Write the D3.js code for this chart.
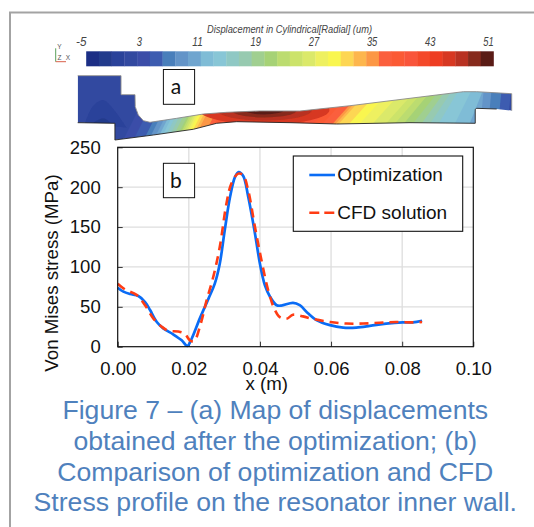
<!DOCTYPE html>
<html>
<head>
<meta charset="utf-8">
<script src="https://cdnjs.cloudflare.com/ajax/libs/d3/7.8.5/d3.min.js"></script>
<style>
    html, body { margin: 0; padding: 0; background: #fff; }
    svg { display: block; }
    text { font-family: "Liberation Sans", Arial, sans-serif; }
</style>
</head>
<body>
<div id="chart"></div>
<script>
// (b) stress profile
const optimizationX = [0, 0.0016, 0.0035, 0.0058, 0.0077, 0.0091, 0.011, 0.0128, 0.0156, 0.018, 0.0196, 0.0208, 0.0231, 0.0255, 0.0273, 0.0287, 0.0301, 0.0316, 0.033, 0.034, 0.0353, 0.0367, 0.0386, 0.04, 0.0414, 0.0428, 0.0447, 0.046, 0.0493, 0.0512, 0.0535, 0.0559, 0.0597, 0.0634, 0.0671, 0.0709, 0.0755, 0.0802, 0.083, 0.0856];
const optimizationY = [74, 69, 66, 63.5, 56, 46, 31, 23, 15.5, 8, 1, 10, 35.5, 60, 79, 104, 146, 188, 213, 219, 214, 188, 142, 104, 77, 63, 52, 51.5, 55, 52, 42, 33.4, 27, 24, 24, 26, 29, 30.5, 30.5, 32.6];
const cfdX = [0, 0.002, 0.0053, 0.0077, 0.01, 0.0124, 0.0142, 0.017, 0.0189, 0.0203, 0.0215, 0.0231, 0.025, 0.0269, 0.0287, 0.0306, 0.032, 0.0339, 0.0353, 0.0367, 0.0386, 0.0404, 0.0423, 0.0442, 0.0456, 0.0475, 0.0493, 0.0521, 0.055, 0.0597, 0.0643, 0.069, 0.0737, 0.0783, 0.083, 0.0856];
const cfdY = [79, 72, 65, 52, 35.5, 25, 20, 19, 16, 8, 7, 25, 58, 88, 125, 180, 205, 217, 215, 196, 150, 109, 71, 46, 37, 35, 40, 38, 34.7, 31, 29, 29, 30, 31, 30.5, 31];
const xTicks = [0, 0.02, 0.04, 0.06, 0.08, 0.10];
const yTicks = [0, 50, 100, 150, 200, 250];
const legendLabels = ["Optimization", "CFD solution"];

// (a) displacement map: colour bar and resonator section in map units
const barColors = ["#1b2f85", "#243a8c", "#2b429a", "#3248a0", "#3a4ea8", "#3c5cb0", "#4a7fbb", "#6494c8", "#6fa5cf", "#7fbcd6", "#88c6d6", "#8fc8c4", "#97cab0", "#a0cf90", "#a6d276", "#bcdc70", "#cce36a", "#dbe96a", "#eef060", "#f9f650", "#fdd652", "#fdb64e", "#fc9744", "#fb5f3c", "#fb5a36", "#f9553a", "#f44a2a", "#ee3d20", "#d73820", "#b83020", "#862a1e", "#5a1d18"];
const barTicks = [-5, 3, 11, 19, 27, 35, 43, 51];
const sectionU = [0, 9.98, 9.98, 13.2, 13.27, 13.96, 15.12, 16.66, 22.81, 28.94, 34.33, 42, 51.2, 62.74, 76.57, 88.85, 91.94, 100, 100, 96.54, 91.94, 91.6, 91.6, 76.57, 59.68, 48.92, 36.64, 32.03, 26.64, 17.42, 8.57, 8.57, 0];
const sectionV = [14.82, 14.82, 10.44, 10.44, 7.67, 5.76, 4.45, 4.08, 5, 5.99, 6.38, 6.7, 6.68, 7.9, 9.61, 11.13, 11.13, 10.67, 6.75, 7.14, 7.3, 7.07, 3.85, 3.99, 3.69, 3.99, 4.22, 3.85, 2.47, 1.15, 0, 3.85, 3.99];
const risingBand = [4, 6, 8, 11, 14, 19, 22, 23, 27];
const risingU = [12, 16.7, 19, 21.3, 24, 26.3, 28.2, 30.1, 34.3];
const fallingBand = [27, 23, 21, 19, 17, 14, 11, 10, 9, 8, 7, 6, 5];
const fallingU = [48.9, 58.1, 59.5, 64.3, 70.3, 76.6, 82.7, 86.5, 90, 92.7, 94.5, 96.8, 99];
const fallingSlant = [0.9, 0.9, 0.9, 0.9, 0.9, 0.8, 0.6, 0.5, 0.4, 0.1, 0.1, 0.1, 0.1];
const hotBand = [28, 29, 30, 31];
const hotRadiusU = [15, 11, 7.5, 4.5];
const hotRadiusV = [3.3, 2.4, 1.7, 1];
const bellOuterU = [1.7, 3.5, 5.9, 8.5, 11.3];
const bellOuterV = [4, 7.8, 9.2, 6.8, 2.8];
const bellInnerU = [3.6, 5.9, 8];
const bellInnerV = [4, 5, 3.6];

const width = 534, height = 527;
const svg = d3.select("#chart").append("svg").attr("width", width).attr("height", height);

// page frame
svg.append("path")
    .attr("d", `M10,${height}V12.5H${width}`)
    .attr("fill", "none")
    .attr("stroke", "#a3a3a3")
    .attr("stroke-width", 2);

const defs = svg.append("defs");
defs.append("filter").attr("id", "soft").append("feGaussianBlur").attr("stdDeviation", 0.45);

// ---- colour bar ----
const barX = d3.scaleLinear().domain([-5, 51]).range([86.2, 493.5]);
const bandWidth = 56 / barColors.length;
const bar = svg.append("g");

bar.append("g").attr("filter", "url(#soft)")
    .selectAll("rect")
    .data(barColors)
    .enter().append("rect")
    .attr("x", (d, i) => barX(-5 + i * bandWidth))
    .attr("y", 51.3)
    .attr("width", barX(bandWidth) - barX(0) + 0.3)
    .attr("height", 15)
    .attr("fill", d => d);

// the bar's labels are condensed in the original, so squeeze them with textLength
bar.selectAll("text.tick")
    .data(barTicks)
    .enter().append("text")
    .attr("class", "tick")
    .attr("x", d => barX(d) - 5)
    .attr("y", 46)
    .attr("text-anchor", "middle")
    .attr("font-size", 12.5)
    .attr("font-style", "italic")
    .attr("fill", "#444")
    .attr("textLength", d => String(d).length * 5.2)
    .attr("lengthAdjust", "spacingAndGlyphs")
    .text(d => d);

bar.append("text")
    .attr("x", 289.5)
    .attr("y", 32.5)
    .attr("text-anchor", "middle")
    .attr("font-size", 10.5)
    .attr("font-style", "italic")
    .attr("fill", "#444")
    .attr("textLength", 165)
    .attr("lengthAdjust", "spacingAndGlyphs")
    .text("Displacement in Cylindrical[Radial] (um)");

// little axis triad beside the bar
const triad = svg.append("g");
triad.append("line").attr("x1", 55.7).attr("x2", 55.7).attr("y1", 48.3).attr("y2", 61.7).attr("stroke", "#5aa05a").attr("stroke-width", 1);
triad.append("line").attr("x1", 55.7).attr("x2", 66).attr("y1", 61.7).attr("y2", 61.7).attr("stroke", "#d9604a").attr("stroke-width", 1);
triad.selectAll("text")
    .data([["Y", 59.5, 48.5], ["Z", 59.5, 59.5], ["X", 68, 59.5]])
    .enter().append("text")
    .attr("x", d => d[1])
    .attr("y", d => d[2])
    .attr("text-anchor", "middle")
    .attr("font-size", 6.5)
    .attr("fill", "#555")
    .text(d => d[0]);

// ---- displacement map ----
const mapU = d3.scaleLinear().domain([0, 100]).range([77.7, 511.7]);
const mapV = d3.scaleLinear().domain([0, 15]).range([140, 74.9]);
const sectionPoints = sectionU.map((u, i) => [u, sectionV[i]]);
const mapLine = d3.line().x(d => mapU(d[0])).y(d => mapV(d[1]));

defs.append("clipPath").attr("id", "section-clip")
    .append("path")
    .attr("d", mapLine(sectionPoints) + "Z");

const map = svg.append("g");
const fill = map.append("g").attr("clip-path", "url(#section-clip)").append("g").attr("filter", "url(#soft)");

// base colour, then nested bands, low to high
fill.append("path")
    .attr("d", mapLine(sectionPoints) + "Z")
    .attr("fill", barColors[3]);

const riseAt = d3.scaleLinear().domain(risingBand).range(risingU).clamp(true);
const fallAt = d3.scaleLinear().domain(fallingBand).range(fallingU).clamp(true);
const slantAt = d3.scaleLinear().domain(fallingBand).range(fallingSlant).clamp(true);
const riseSlant = 0.5, refV = 3;

d3.range(4, 28).forEach(function (b) {
    const r = riseAt(b), f = fallAt(b), s = slantAt(b);
    const band = [
        [r - refV * riseSlant, 0],
        [r + (16 - refV) * riseSlant, 16],
        [f + (16 - refV) * s, 16],
        [f - refV * s, 0]
    ];
    fill.append("path")
        .attr("d", mapLine(band) + "Z")
        .attr("fill", barColors[b]);
});

// hot spot under the upper wall
hotBand.forEach(function (b, i) {
    fill.append("ellipse")
        .attr("cx", mapU(43))
        .attr("cy", mapV(6.9))
        .attr("rx", mapU(hotRadiusU[i]) - mapU(0))
        .attr("ry", mapV(0) - mapV(hotRadiusV[i]))
        .attr("fill", barColors[b]);
});

// darker bell in the flange
const bellLine = d3.line().x(d => mapU(d[0])).y(d => mapV(d[1])).curve(d3.curveCatmullRom);
fill.append("path")
    .attr("d", bellLine(bellOuterU.map((u, i) => [u, bellOuterV[i]])))
    .attr("fill", barColors[2]);
fill.append("path")
    .attr("d", bellLine(bellInnerU.map((u, i) => [u, bellInnerV[i]])))
    .attr("fill", barColors[1]);

map.append("path")
    .attr("d", mapLine(sectionPoints.slice(0, 19)))
    .attr("fill", "none")
    .attr("stroke", "#8a8a8a")
    .attr("stroke-width", 0.9);
map.append("path")
    .attr("d", mapLine(sectionPoints.slice(19)))
    .attr("fill", "none")
    .attr("stroke", "#222")
    .attr("stroke-width", 0.9);

// ---- stress plot ----
const x = d3.scaleLinear().domain([0, 0.10]).range([117.7, 473.3]);
const y = d3.scaleLinear().domain([0, 250]).range([346.7, 147.3]);

const plot = svg.append("g");

plot.append("g")
    .selectAll("line")
    .data(xTicks.slice(1, -1))
    .enter().append("line")
    .attr("x1", d => x(d)).attr("x2", d => x(d))
    .attr("y1", y(0)).attr("y2", y(250))
    .attr("stroke", "#dedede")
    .attr("stroke-width", 1.3);

plot.append("g")
    .selectAll("line")
    .data(yTicks.slice(1, -1))
    .enter().append("line")
    .attr("x1", x(0)).attr("x2", x(0.10))
    .attr("y1", d => y(d)).attr("y2", d => y(d))
    .attr("stroke", "#dedede")
    .attr("stroke-width", 1.3);

const xAxis = d3.axisBottom(x).tickValues(xTicks).tickFormat(d3.format(".2f")).tickSizeInner(-5).tickSizeOuter(0).tickPadding(15);
const yAxis = d3.axisLeft(y).tickValues(yTicks).tickSizeInner(-5).tickSizeOuter(0).tickPadding(17);

const gx = plot.append("g").attr("transform", `translate(0, ${y(0)})`).call(xAxis);
const gy = plot.append("g").attr("transform", `translate(${x(0)}, 0)`).call(yAxis);
[gx, gy].forEach(function (g) {
    g.select(".domain").remove();
    g.selectAll("text").attr("font-size", 18.5).attr("fill", "#111").style("font-family", "'Liberation Sans', sans-serif");
    g.selectAll("line").attr("stroke", "#333");
});

const curve = d3.line().x(d => x(d[0])).y(d => y(d[1])).curve(d3.curveCatmullRom.alpha(0.5));

plot.append("path")
    .datum(optimizationX.map((v, i) => [v, optimizationY[i]]))
    .attr("fill", "none")
    .attr("stroke", "#0a6cf5")
    .attr("stroke-width", 2.7)
    .attr("d", curve);

plot.append("path")
    .datum(cfdX.map((v, i) => [v, cfdY[i]]))
    .attr("fill", "none")
    .attr("stroke", "#ff3c14")
    .attr("stroke-width", 2.6)
    .attr("stroke-dasharray", "9,6")
    .attr("d", curve);

plot.append("rect")
    .attr("x", x(0)).attr("y", y(250))
    .attr("width", x(0.10) - x(0)).attr("height", y(0) - y(250))
    .attr("fill", "none")
    .attr("stroke", "#111")
    .attr("stroke-width", 1.2);

plot.append("text")
    .attr("transform", "rotate(-90)")
    .attr("x", -273)
    .attr("y", 58)
    .attr("text-anchor", "middle")
    .attr("font-size", 18.7)
    .attr("fill", "#111")
    .text("Von Mises stress (MPa)");

plot.append("text")
    .attr("x", 266.7)
    .attr("y", 390)
    .attr("text-anchor", "middle")
    .attr("font-size", 18.7)
    .attr("fill", "#111")
    .text("x (m)");

// legend
const legend = svg.append("g");
legend.append("rect")
    .attr("x", 293.3).attr("y", 156)
    .attr("width", 169.4).attr("height", 75.3)
    .attr("fill", "#fff")
    .attr("stroke", "#111")
    .attr("stroke-width", 1.1);

legend.selectAll("line")
    .data(legendLabels)
    .enter().append("line")
    .attr("x1", 309.3).attr("x2", 335)
    .attr("y1", (d, i) => 175 + i * 37.7)
    .attr("y2", (d, i) => 175 + i * 37.7)
    .attr("stroke", (d, i) => i === 0 ? "#0a6cf5" : "#ff3c14")
    .attr("stroke-width", 2.6)
    .attr("stroke-dasharray", (d, i) => i === 0 ? null : "10,5");

legend.selectAll("text")
    .data(legendLabels)
    .enter().append("text")
    .attr("x", 337.3)
    .attr("y", (d, i) => 181 + i * 38)
    .attr("font-size", 19)
    .attr("fill", "#111")
    .text(d => d);

// panel tags
const tags = svg.append("g");
tags.selectAll("rect")
    .data([[69.5, 34.8], [163.3, 34.4]])
    .enter().append("rect")
    .attr("x", 163.4)
    .attr("y", d => d[0])
    .attr("width", 31.2)
    .attr("height", d => d[1])
    .attr("fill", "#fff")
    .attr("stroke", "#111")
    .attr("stroke-width", 1);
tags.selectAll("text")
    .data([["a", 94], ["b", 188]])
    .enter().append("text")
    .attr("x", 176)
    .attr("y", d => d[1])
    .attr("text-anchor", "middle")
    .attr("font-size", 21)
    .attr("fill", "#111")
    .style("font-family", "Lato, sans-serif")
    .text(d => d[0]);

// caption
const captionLines = [
    "Figure 7 \u2013 (a) Map of displacements",
    "obtained after the optimization; (b)",
    "Comparison of optimization and CFD",
    "Stress profile on the resonator inner wall."
];
svg.append("g").selectAll("text")
    .data(captionLines)
    .enter().append("text")
    .attr("x", 275.3)
    .attr("y", (d, i) => 419 + i * 30.8)
    .attr("text-anchor", "middle")
    .attr("font-size", 26.6)
    .attr("fill", "#4f81bd")
    .text(d => d);
</script>
</body>
</html>
